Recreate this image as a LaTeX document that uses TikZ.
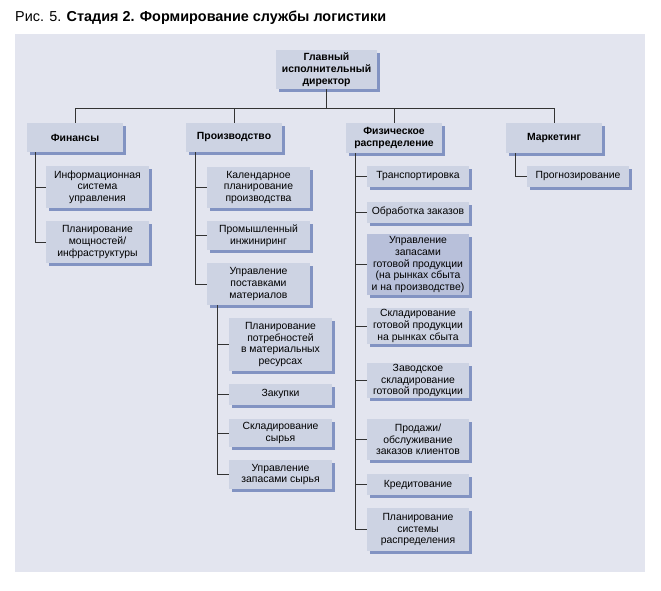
\documentclass[tikz,border=0pt]{standalone}
\usepackage{fontspec}
\setmainfont{Liberation Sans}
\usetikzlibrary{shadows}
\definecolor{panelc}{HTML}{E3E5EF}
\definecolor{boxc}{HTML}{CDD3E3}
\definecolor{boxdark}{HTML}{B8C0DA}
\definecolor{shc}{HTML}{8293C2}
\definecolor{linec}{HTML}{333333}
\tikzset{
  box/.style={fill=boxc, draw=none, inner sep=1pt, align=center,
    font=\fontsize{10.4}{11.6}\selectfont,
    drop shadow={shadow xshift=3pt, shadow yshift=-3pt, fill=shc, opacity=1}},
  head/.style={box, font=\fontsize{10.4}{12}\selectfont\bfseries},
  conn/.style={draw=linec, line width=0.9pt},
}
\begin{document}
\begin{tikzpicture}[x=1pt,y=-1pt]
\useasboundingbox (0,0) rectangle (661,591);
\fill[white] (0,0) rectangle (661,591);
\fill[panelc] (15,34) rectangle (645,572);
\node[anchor=base west, inner sep=0pt, font=\fontsize{14.4}{16}\selectfont] (title) at (15,21.5) {Рис. 5. \textbf{Стадия 2. Формирование службы логистики}};

% top
\node[head, minimum width=101pt, minimum height=39pt] (ceo) at (326.5,69.5) {Главный\\исполнительный\\директор};
\node[head, minimum width=96pt, minimum height=29pt] (fin) at (75,137.5) {Финансы};
\node[head, minimum width=96pt, minimum height=29pt] (prod) at (234,137.5) {Производство};
\node[head, minimum width=96pt, minimum height=30pt] (phys) at (394,138) {Физическое\\распределение};
\node[head, minimum width=96pt, minimum height=30pt] (mkt) at (554,138) {Маркетинг};
\coordinate (bus) at (0,108);
\foreach \n in {fin,prod,phys,mkt}
  \draw[conn] (\n.north) -- (\n.north |- bus) -| (ceo.south);

% finance
\node[box, minimum width=103pt, minimum height=42pt] (f1) at (97.5,187) {Информационная\\система\\управления};
\node[box, minimum width=103pt, minimum height=42pt] (f2) at (97.5,242) {Планирование\\мощностей/\\инфраструктуры};
\coordinate (fs) at ([xshift=9pt]fin.south west);
\draw[conn] (fs) |- (f1.west);
\draw[conn] (fs) |- (f2.west);

% production
\node[box, minimum width=103pt, minimum height=41pt] (p1) at (258.5,187.5) {Календарное\\планирование\\производства};
\node[box, minimum width=103pt, minimum height=29pt] (p2) at (258.5,235.5) {Промышленный\\инжиниринг};
\node[box, minimum width=103pt, minimum height=42pt] (p3) at (258.5,284) {Управление\\поставками\\материалов};
\coordinate (ps) at ([xshift=10pt]prod.south west);
\foreach \n in {p1,p2,p3} \draw[conn] (ps) |- (\n.west);

\node[box, minimum width=103pt, minimum height=53pt] (s1) at (280.5,344.5) {Планирование\\потребностей\\в материальных\\ресурсах};
\node[box, minimum width=103pt, minimum height=21pt] (s2) at (280.5,394) {Закупки};
\node[box, minimum width=103pt, minimum height=28pt] (s3) at (280.5,433) {Складирование\\сырья};
\node[box, minimum width=103pt, minimum height=29pt] (s4) at (280.5,474.5) {Управление\\запасами сырья};
\coordinate (ss) at ([xshift=11pt]p3.south west);
\foreach \n in {s1,s2,s3,s4} \draw[conn] (ss) |- (\n.west);

% physical distribution
\node[box, minimum width=102pt, minimum height=21pt] (d1) at (418,176) {Транспортировка};
\node[box, minimum width=102pt, minimum height=21pt] (d2) at (418,212) {Обработка заказов};
\node[box, fill=boxdark, minimum width=102pt, minimum height=61pt] (d3) at (418,264.5) {Управление\\запасами\\готовой продукции\\(на рынках сбыта\\и на производстве)};
\node[box, minimum width=102pt, minimum height=36pt] (d4) at (418,326) {Складирование\\готовой продукции\\на рынках сбыта};
\node[box, minimum width=102pt, minimum height=35pt] (d5) at (418,380.5) {Заводское\\складирование\\готовой продукции};
\node[box, minimum width=102pt, minimum height=41pt] (d6) at (418,439.5) {Продажи/\\обслуживание\\заказов клиентов};
\node[box, minimum width=102pt, minimum height=21pt] (d7) at (418,484.5) {Кредитование};
\node[box, minimum width=102pt, minimum height=43pt] (d8) at (418,529.5) {Планирование\\системы\\распределения};
\coordinate (ds) at ([xshift=10pt]phys.south west);
\foreach \n in {d1,d2,d3,d4,d5,d6,d7,d8} \draw[conn] (ds) |- (\n.west);

% marketing
\node[box, minimum width=102pt, minimum height=21pt] (m1) at (578,176.5) {Прогнозирование};
\coordinate (ms) at ([xshift=10pt]mkt.south west);
\draw[conn] (ms) |- (m1.west);
\end{tikzpicture}
\end{document}
